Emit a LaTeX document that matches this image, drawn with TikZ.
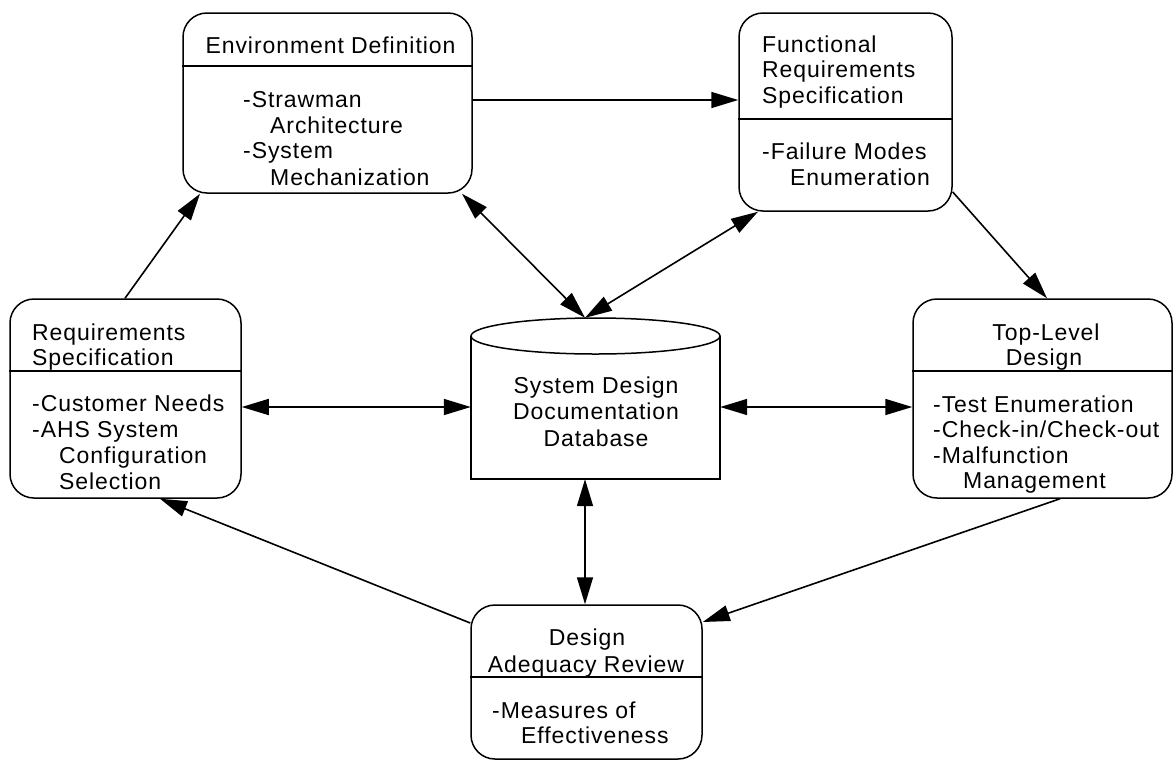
\documentclass[tikz,border=0pt]{standalone}
\usepackage{fontspec}
\setmainfont{Liberation Sans}[LetterSpace=4]
\usetikzlibrary{arrows.meta}
\begin{document}
\begin{tikzpicture}[x=1pt,y=-1pt,
  box/.style={draw, line width=1.5pt, rounded corners=24pt, inner sep=0pt},
  sep/.style={line width=1.5pt},
  txt/.style={inner sep=0pt, font=\fontsize{23}{26}\selectfont},
  lt/.style={txt, anchor=base west},
  ct/.style={txt, anchor=base},
  arr/.style={line width=1.6pt, -{Triangle[length=27pt,width=16pt]}},
  arrb/.style={line width=1.6pt, {Triangle[length=27pt,width=16pt]}-{Triangle[length=27pt,width=16pt]}}]
\useasboundingbox (0,0) rectangle (1175,761);

% ---- boxes (centre, size) ----
\node[box, minimum width=289pt, minimum height=180pt] (env) at (327.5,103) {};
\node[box, minimum width=213pt, minimum height=198pt] (fun) at (845.5,112) {};
\node[box, minimum width=231pt, minimum height=199pt] (req) at (125.5,398.5) {};
\node[box, minimum width=259pt, minimum height=199pt] (top) at (1042.5,398.5) {};
\node[box, minimum width=231pt, minimum height=154pt] (ade) at (586.5,682) {};
\node[inner sep=0pt, minimum width=249pt, minimum height=161pt] (db) at (595.5,398.5) {};

% ---- dividers ----
\draw[sep] (env.west |- 0,66)  -- (env.east |- 0,66);
\draw[sep] (fun.west |- 0,119) -- (fun.east |- 0,119);
\draw[sep] (req.west |- 0,371) -- (req.east |- 0,371);
\draw[sep] (top.west |- 0,371) -- (top.east |- 0,371);
\draw[sep] (ade.west |- 0,677) -- (ade.east |- 0,677);

% ---- database cylinder ----
\draw[sep] (db.north west) ++(0,18) -- (db.south west) -- (db.south east) -- ++(0,-143);
\draw[sep, fill=white] (595.5,336) ellipse [x radius=124.5, y radius=18];

% ---- texts ----
\node[ct] (env t1) at (330.5,53) {Environment Definition};
\node[lt] (env b1) at (243,107) {-Strawman};
\node[lt] (env b2) at (270,133) {Architecture};
\node[lt] (env b3) at (243,158) {-System};
\node[lt] (env b4) at (270,185) {Mechanization};

\node[lt] (fun t1) at (762,52) {Functional};
\node[lt] (fun t2) at (762,77) {Requirements};
\node[lt] (fun t3) at (762,103) {Specification};
\node[lt] (fun b1) at (762,159) {-Failure Modes};
\node[lt] (fun b2) at (790,185) {Enumeration};

\node[lt] (req t1) at (32,340) {Requirements};
\node[lt] (req t2) at (32,365) {Specification};
\node[lt] (req b1) at (32,411) {-Customer Needs};
\node[lt] (req b2) at (32,437) {-AHS System};
\node[lt] (req b3) at (59,463) {Configuration};
\node[lt] (req b4) at (59,489) {Selection};

\node[ct] (top t1) at (1046,340) {Top-Level};
\node[ct] (top t2) at (1044,365) {Design};
\node[lt] (top b1) at (933,412) {-Test Enumeration};
\node[lt] (top b2) at (933,437) {-Check-in/Check-out};
\node[lt] (top b3) at (933,463) {-Malfunction};
\node[lt] (top b4) at (963,488) {Management};

\node[ct] (db t1) at (596,393) {System Design};
\node[ct] (db t2) at (596,419) {Documentation};
\node[ct] (db t3) at (596,446) {Database};

\node[ct] (ade t1) at (587,645) {Design};
\node[ct] (ade t2) at (586,672) {Adequacy Review};
\node[lt] (ade b1) at (492,718) {-Measures of};
\node[lt] (ade b2) at (521,743) {Effectiveness};

% ---- connectors ----
\draw[arr]  (env.east |- 0,100) -- (fun.west |- 0,100);
\draw[arr]  (req.north -| 125,0) -- (env.south -| 200,0);
\draw[arr]  (fun.east |- 0,192) -- (top.north -| 1047,0);
\draw[arrb] (env.south -| 462,0) -- (db.north -| 585,0);
\draw[arrb] (fun.south -| 758,0) -- (db.north -| 585,0);
\draw[arrb] (req.east |- 0,407) -- (db.west |- 0,407);
\draw[arrb] (db.east |- 0,407) -- (top.west |- 0,407);
\draw[arrb] (db.south -| 585,0) -- (ade.north -| 585,0);
\draw[arr]  (top.south -| 1060,0) -- (ade.east |- 0,622);
\draw[arr]  (ade.west |- 0,623) -- (req.south -| 160,0);
\end{tikzpicture}
\end{document}
